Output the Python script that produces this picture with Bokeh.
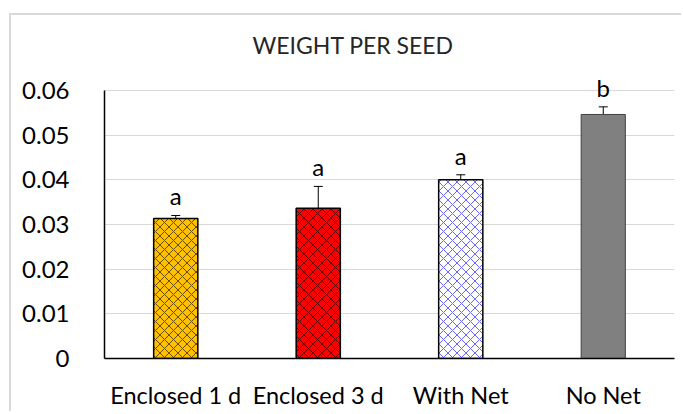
from bokeh.plotting import figure
from bokeh.models import ColumnDataSource, FactorRange, Range1d, FixedTicker, Whisker, TeeHead, LabelSet
from bokeh.core.properties import value
from bokeh.embed import file_html
from bokeh.resources import INLINE

categories = ["Enclosed 1 d", "Enclosed 3 d", "With Net", "No Net"]
values = [0.0313, 0.0336, 0.0400, 0.0546]
errors = [0.0007, 0.0049, 0.0011, 0.0017]
letters = ["a", "a", "a", "b"]
fill_colors = ["#ffc000", "#ff0000", "#ffffff", "#808080"]
hatch_colors = ["#000000", "#000000", "#0000ff", "#808080"]
hatch_patterns = ["x", "x", "x", " "]
line_colors = ["#000000", "#000000", "#000000", "#404040"]
line_widths = [1.5, 1.5, 1.5, 1.0]
y_ticks = [0, 0.01, 0.02, 0.03, 0.04, 0.05, 0.06]
y_tick_labels = ["0", "0.01", "0.02", "0.03", "0.04", "0.05", "0.06"]
title_text = "WEIGHT PER  SEED"

FONT = "Lato"

src = ColumnDataSource(dict(
    cat=categories, val=values,
    upper=[v + e for v, e in zip(values, errors)],
    lower=[v - e for v, e in zip(values, errors)],
    letter=letters, fill=fill_colors, hatch=hatch_colors,
    pattern=hatch_patterns, lc=line_colors, lw=line_widths,
))

p = figure(x_range=FactorRange(*categories, range_padding=0),
           y_range=Range1d(0, 0.066),
           width=672, height=398, output_backend="svg", toolbar_location=None,
           min_border_left=93, min_border_right=9, min_border_top=48, min_border_bottom=55)
p.styles = {"border-top": "2px solid #d9d9d9", "border-left": "2px solid #d9d9d9",
            "margin-top": "13px", "margin-left": "9px"}
p.outline_line_color = None
p.background_fill_color = "white"
p.border_fill_color = "white"

p.title.text = title_text
p.title.align = "left"
p.title.offset = 148
p.title.text_font = FONT
p.title.text_font_size = "23px"
p.title.text_font_style = "normal"
p.title.text_color = "#262626"
p.title.standoff = 10

p.vbar(x="cat", top="val", width=0.31, source=src,
       fill_color="fill", line_color="lc", line_width="lw",
       hatch_pattern="pattern", hatch_color="hatch", hatch_scale=9,
       hatch_weight=1, hatch_alpha=0.6)

w = Whisker(base="cat", upper="upper", lower="lower", source=src,
            line_color="black", line_width=1,
            upper_head=TeeHead(size=9, line_color="black", line_width=1),
            lower_head=TeeHead(size=9, line_color="black", line_width=1))
p.add_layout(w)

labels = LabelSet(x="cat", y="upper", text="letter", source=src,
                  text_align="center", text_baseline="bottom", y_offset=5,
                  text_font=value(FONT), text_font_size="24px", text_color="black")
p.add_layout(labels)

p.yaxis.ticker = FixedTicker(ticks=y_ticks)
p.yaxis.bounds = (0, 0.06)
p.yaxis.major_label_overrides = {t: l for t, l in zip(y_ticks, y_tick_labels)}
p.yaxis.major_tick_line_color = None
p.yaxis.minor_tick_line_color = None
p.yaxis.axis_line_color = "black"
p.yaxis.axis_line_width = 1.5
p.yaxis.major_label_standoff = 29
p.yaxis.major_label_text_font = FONT
p.yaxis.major_label_text_font_size = "24px"
p.yaxis.major_label_text_color = "black"

p.xaxis.major_tick_line_color = None
p.xaxis.axis_line_color = "black"
p.xaxis.axis_line_width = 1.5
p.xaxis.major_label_standoff = 16
p.xaxis.major_label_text_font = FONT
p.xaxis.major_label_text_font_size = "23.5px"
p.xaxis.major_label_text_color = "black"

p.xgrid.grid_line_color = None
p.ygrid.grid_line_color = "#d9d9d9"
p.ygrid.grid_line_width = 1

open("out.html", "w").write(file_html(p, INLINE))
